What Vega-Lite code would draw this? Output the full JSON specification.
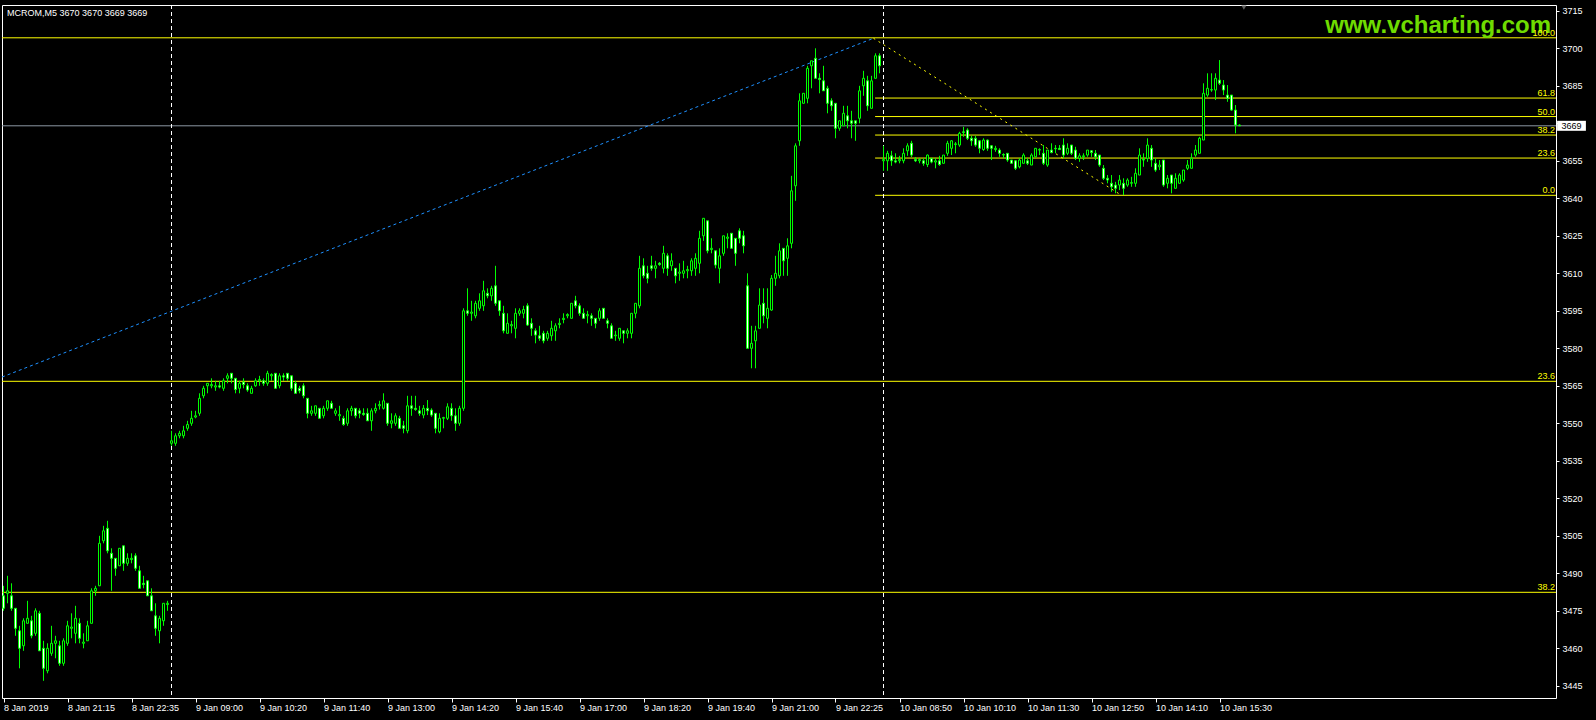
{
"$schema":"https://vega.github.io/schema/vega-lite/v6.json",
"autosize":{"type":"none"},
"padding":{"left":2,"top":5,"right":40,"bottom":22},
"width":1554,"height":693,
"background":"#000000",
"config":{"view":{"stroke":"#ffffff","strokeWidth":1},"font":"Liberation Sans","scale":{"continuousPadding":0},"axis":{"labelOverlap":false},"axisY":{"labelOverlap":false,"format":"d","tickCount":40}},
"datasets":{
"candles":[
{"i":0,"o":3481,"h":3485,"l":3475,"c":3476},{"i":1,"o":3482,"h":3489,"l":3478,"c":3483},{"i":2,"o":3481,"h":3486,"l":3475,"c":3476},{"i":3,"o":3476,"h":3476,"l":3465,"c":3468},{"i":4,"o":3467,"h":3469,"l":3452,"c":3460},{"i":5,"o":3461,"h":3472,"l":3459,"c":3471},{"i":6,"o":3470,"h":3479,"l":3470,"c":3472},{"i":7,"o":3471,"h":3473,"l":3464,"c":3465},{"i":8,"o":3466,"h":3476,"l":3465,"c":3475},{"i":9,"o":3474,"h":3475,"l":3459,"c":3459},
{"i":10,"o":3460,"h":3463,"l":3447,"c":3452},{"i":11,"o":3451,"h":3462,"l":3450,"c":3460},{"i":12,"o":3458,"h":3469,"l":3457,"c":3462},{"i":13,"o":3462,"h":3465,"l":3456,"c":3463},{"i":14,"o":3461,"h":3463,"l":3453,"c":3454},{"i":15,"o":3454,"h":3464,"l":3453,"c":3463},{"i":16,"o":3462,"h":3471,"l":3461,"c":3469},{"i":17,"o":3468,"h":3474,"l":3464,"c":3468.5},{"i":18,"o":3466,"h":3477,"l":3462,"c":3472},{"i":19,"o":3470,"h":3472,"l":3462,"c":3464},
{"i":20,"o":3462,"h":3466,"l":3460,"c":3462.5},{"i":21,"o":3463,"h":3471,"l":3463,"c":3469},{"i":22,"o":3470,"h":3484,"l":3470,"c":3483},{"i":23,"o":3483,"h":3485,"l":3481,"c":3484},{"i":24,"o":3485,"h":3505,"l":3485,"c":3502},{"i":25,"o":3503,"h":3509,"l":3502,"c":3507},{"i":26,"o":3508,"h":3511,"l":3498,"c":3499},{"i":27,"o":3498,"h":3500,"l":3483,"c":3496},{"i":28,"o":3496,"h":3496,"l":3489,"c":3492},{"i":29,"o":3493,"h":3500,"l":3493,"c":3500},
{"i":30,"o":3501,"h":3501,"l":3491,"c":3494},{"i":31,"o":3494,"h":3498,"l":3493,"c":3496},{"i":32,"o":3495.5,"h":3498,"l":3494,"c":3496},{"i":33,"o":3497,"h":3498,"l":3491,"c":3492},{"i":34,"o":3491,"h":3493,"l":3484,"c":3484},{"i":35,"o":3486,"h":3489,"l":3484,"c":3485.5},{"i":36,"o":3487,"h":3487,"l":3481,"c":3481},{"i":37,"o":3481,"h":3484,"l":3475,"c":3475},{"i":38,"o":3473,"h":3478,"l":3465,"c":3468},{"i":39,"o":3467,"h":3473,"l":3462,"c":3472},
{"i":40,"o":3471,"h":3478,"l":3469,"c":3478},{"i":41,"o":3477.5,"h":3479,"l":3475,"c":3478},{"i":42,"o":3542,"h":3547,"l":3541,"c":3543},{"i":43,"o":3542,"h":3546,"l":3541,"c":3545},{"i":44,"o":3545,"h":3547,"l":3544,"c":3546},{"i":45,"o":3545,"h":3549,"l":3544,"c":3547},{"i":46,"o":3548,"h":3551,"l":3547,"c":3549.5},{"i":47,"o":3550,"h":3555,"l":3549,"c":3552},{"i":48,"o":3552.5,"h":3555,"l":3552,"c":3553},{"i":49,"o":3554,"h":3562,"l":3553,"c":3560},
{"i":50,"o":3561,"h":3565,"l":3560,"c":3564},{"i":51,"o":3565,"h":3566,"l":3562,"c":3566},{"i":52,"o":3565,"h":3568,"l":3564,"c":3565.5},{"i":53,"o":3564.5,"h":3567,"l":3563,"c":3565},{"i":54,"o":3565,"h":3567,"l":3564,"c":3564.5},{"i":55,"o":3564,"h":3568,"l":3563,"c":3567},{"i":56,"o":3568,"h":3570,"l":3566,"c":3569},{"i":57,"o":3570,"h":3570,"l":3566,"c":3568},{"i":58,"o":3568,"h":3568,"l":3562,"c":3563.5},{"i":59,"o":3564,"h":3567,"l":3562,"c":3566},
{"i":60,"o":3566.5,"h":3568,"l":3564,"c":3565.5},{"i":61,"o":3565,"h":3566,"l":3562.6,"c":3563.3},{"i":62,"o":3562,"h":3565,"l":3562,"c":3564},{"i":63,"o":3565,"h":3568,"l":3564.6,"c":3567},{"i":64,"o":3567,"h":3569,"l":3565,"c":3567.5},{"i":65,"o":3567,"h":3568,"l":3565,"c":3566},{"i":66,"o":3566,"h":3571,"l":3565,"c":3570},{"i":67,"o":3569,"h":3570,"l":3567,"c":3569.5},{"i":68,"o":3570,"h":3570,"l":3564,"c":3564},{"i":69,"o":3565,"h":3570,"l":3564,"c":3569},
{"i":70,"o":3569,"h":3570,"l":3567,"c":3568.5},{"i":71,"o":3570,"h":3570,"l":3567,"c":3568},{"i":72,"o":3569,"h":3569,"l":3563,"c":3564},{"i":73,"o":3566,"h":3567,"l":3562,"c":3562},{"i":74,"o":3564,"h":3565,"l":3562,"c":3563},{"i":75,"o":3565,"h":3566,"l":3560,"c":3561},{"i":76,"o":3560,"h":3560,"l":3552,"c":3554},{"i":77,"o":3554,"h":3557,"l":3553,"c":3555},{"i":78,"o":3554,"h":3557,"l":3553,"c":3557},{"i":79,"o":3556,"h":3556,"l":3552,"c":3552},
{"i":80,"o":3553,"h":3557,"l":3552,"c":3556},{"i":81,"o":3556,"h":3559,"l":3555,"c":3559},{"i":82,"o":3558,"h":3559,"l":3556,"c":3556},{"i":83,"o":3554,"h":3556,"l":3553,"c":3555},{"i":84,"o":3553,"h":3557,"l":3551,"c":3553.5},{"i":85,"o":3552,"h":3553,"l":3549,"c":3549.5},{"i":86,"o":3550,"h":3556,"l":3549,"c":3555},{"i":87,"o":3555,"h":3557,"l":3553,"c":3556},{"i":88,"o":3556,"h":3556,"l":3552,"c":3553},{"i":89,"o":3555,"h":3556,"l":3552,"c":3554},
{"i":90,"o":3554,"h":3556,"l":3553,"c":3553.5},{"i":91,"o":3554,"h":3556,"l":3551,"c":3551},{"i":92,"o":3551,"h":3556,"l":3547,"c":3555},{"i":93,"o":3555,"h":3558,"l":3554,"c":3556},{"i":94,"o":3557,"h":3559,"l":3555.5,"c":3557.5},{"i":95,"o":3556,"h":3562,"l":3555.5,"c":3559},{"i":96,"o":3558,"h":3558,"l":3549,"c":3550},{"i":97,"o":3550,"h":3554,"l":3548,"c":3551},{"i":98,"o":3550,"h":3554,"l":3549,"c":3553},{"i":99,"o":3552,"h":3553,"l":3548,"c":3548},
{"i":100,"o":3549,"h":3551,"l":3546,"c":3548},{"i":101,"o":3547,"h":3561,"l":3546,"c":3557},{"i":102,"o":3557,"h":3561,"l":3553,"c":3556},{"i":103,"o":3556,"h":3561,"l":3555,"c":3555.5},{"i":104,"o":3555,"h":3557,"l":3553,"c":3554},{"i":105,"o":3553.3,"h":3557.3,"l":3552,"c":3556},{"i":106,"o":3556,"h":3559.3,"l":3553.3,"c":3555},{"i":107,"o":3555.3,"h":3556,"l":3552.6,"c":3553.3},{"i":108,"o":3554,"h":3554,"l":3546,"c":3548},{"i":109,"o":3546.6,"h":3554,"l":3546,"c":3552},
{"i":110,"o":3552,"h":3552.6,"l":3548,"c":3552.3},{"i":111,"o":3552,"h":3558,"l":3551.3,"c":3556.6},{"i":112,"o":3556,"h":3558,"l":3551,"c":3553},{"i":113,"o":3553,"h":3556,"l":3547,"c":3550},{"i":114,"o":3550,"h":3557,"l":3549,"c":3556},{"i":115,"o":3556,"h":3596,"l":3555,"c":3595},{"i":116,"o":3595,"h":3604,"l":3593,"c":3594},{"i":117,"o":3594,"h":3599,"l":3591,"c":3594.5},{"i":118,"o":3593,"h":3599,"l":3592,"c":3598},{"i":119,"o":3596,"h":3602,"l":3595,"c":3599},
{"i":120,"o":3597,"h":3607,"l":3595,"c":3603},{"i":121,"o":3602,"h":3604,"l":3600,"c":3601},{"i":122,"o":3601,"h":3605,"l":3599,"c":3604},{"i":123,"o":3605,"h":3613,"l":3597,"c":3598},{"i":124,"o":3599,"h":3599,"l":3593,"c":3595},{"i":125,"o":3594,"h":3597,"l":3586,"c":3587},{"i":126,"o":3586,"h":3594,"l":3586,"c":3590},{"i":127,"o":3589,"h":3591,"l":3586,"c":3589.5},{"i":128,"o":3588,"h":3596,"l":3584,"c":3594},{"i":129,"o":3594,"h":3596,"l":3593,"c":3595},
{"i":130,"o":3594,"h":3597,"l":3592,"c":3595.5},{"i":131,"o":3597,"h":3598,"l":3589,"c":3589.3},{"i":132,"o":3590,"h":3592,"l":3585,"c":3588},{"i":133,"o":3587,"h":3588,"l":3582,"c":3585.3},{"i":134,"o":3585,"h":3589,"l":3583,"c":3584},{"i":135,"o":3586,"h":3587,"l":3582,"c":3583},{"i":136,"o":3584,"h":3587,"l":3583,"c":3586},{"i":137,"o":3585,"h":3591,"l":3583,"c":3588},{"i":138,"o":3587,"h":3590,"l":3583,"c":3589},{"i":139,"o":3589.5,"h":3592,"l":3588,"c":3590},
{"i":140,"o":3591.5,"h":3594,"l":3590,"c":3592},{"i":141,"o":3593,"h":3594,"l":3592,"c":3593.5},{"i":142,"o":3592,"h":3598,"l":3592,"c":3598},{"i":143,"o":3599,"h":3601,"l":3596,"c":3597},{"i":144,"o":3597,"h":3598,"l":3593,"c":3594},{"i":145,"o":3594,"h":3596,"l":3592,"c":3592},{"i":146,"o":3593,"h":3595,"l":3590,"c":3593.5},{"i":147,"o":3593,"h":3594,"l":3589,"c":3592},{"i":148,"o":3592,"h":3592,"l":3588,"c":3590},{"i":149,"o":3592,"h":3596,"l":3591,"c":3595},
{"i":150,"o":3596,"h":3596,"l":3592,"c":3592},{"i":151,"o":3591,"h":3592,"l":3588,"c":3590},{"i":152,"o":3589,"h":3590,"l":3584,"c":3584},{"i":153,"o":3585,"h":3587,"l":3583,"c":3585.3},{"i":154,"o":3584,"h":3588,"l":3583,"c":3588},{"i":155,"o":3587,"h":3587,"l":3582,"c":3586},{"i":156,"o":3586,"h":3588,"l":3584,"c":3587},{"i":157,"o":3586,"h":3594,"l":3584,"c":3594},{"i":158,"o":3594,"h":3598,"l":3592,"c":3598},{"i":159,"o":3597,"h":3617,"l":3596,"c":3612},
{"i":160,"o":3613,"h":3616,"l":3608,"c":3609},{"i":161,"o":3610,"h":3613,"l":3606,"c":3608},{"i":162,"o":3613,"h":3617,"l":3611,"c":3612},{"i":163,"o":3612,"h":3615,"l":3608,"c":3613},{"i":164,"o":3614,"h":3614.5,"l":3613,"c":3613.5},{"i":165,"o":3612,"h":3621,"l":3610,"c":3618},{"i":166,"o":3617,"h":3618,"l":3609,"c":3612},{"i":167,"o":3613,"h":3618,"l":3611,"c":3615},{"i":168,"o":3612,"h":3612,"l":3606,"c":3609},{"i":169,"o":3610,"h":3614,"l":3607,"c":3610.5},
{"i":170,"o":3610,"h":3615,"l":3608,"c":3611},{"i":171,"o":3611,"h":3613,"l":3608,"c":3611.5},{"i":172,"o":3611,"h":3616,"l":3609,"c":3615},{"i":173,"o":3612,"h":3618,"l":3609,"c":3616},{"i":174,"o":3614,"h":3627,"l":3610,"c":3624},{"i":175,"o":3625,"h":3632,"l":3623,"c":3632},{"i":176,"o":3631,"h":3631,"l":3618,"c":3619},{"i":177,"o":3619.5,"h":3624,"l":3618,"c":3620},{"i":178,"o":3619,"h":3619,"l":3612,"c":3613.3},{"i":179,"o":3612,"h":3620,"l":3606,"c":3617},
{"i":180,"o":3618,"h":3625,"l":3617,"c":3625},{"i":181,"o":3624,"h":3626,"l":3620,"c":3624.5},{"i":182,"o":3626,"h":3626,"l":3620,"c":3620},{"i":183,"o":3624,"h":3624,"l":3613,"c":3618},{"i":184,"o":3627,"h":3628,"l":3622,"c":3624},{"i":185,"o":3625,"h":3627,"l":3618,"c":3621},{"i":186,"o":3605,"h":3610,"l":3580,"c":3580},{"i":187,"o":3580,"h":3589,"l":3572,"c":3582},{"i":188,"o":3583,"h":3589,"l":3572,"c":3587},{"i":189,"o":3588,"h":3604,"l":3588,"c":3597.3},
{"i":190,"o":3598,"h":3604,"l":3590,"c":3593},{"i":191,"o":3592,"h":3604,"l":3588,"c":3596},{"i":192,"o":3595.3,"h":3609.3,"l":3595,"c":3608},{"i":193,"o":3608,"h":3617,"l":3605,"c":3610},{"i":194,"o":3609,"h":3622,"l":3608,"c":3619},{"i":195,"o":3620,"h":3620,"l":3609,"c":3615},{"i":196,"o":3616,"h":3624,"l":3609,"c":3621},{"i":197,"o":3622,"h":3649,"l":3620,"c":3643},{"i":198,"o":3645,"h":3662,"l":3639,"c":3661},{"i":199,"o":3663,"h":3682,"l":3661,"c":3679},
{"i":200,"o":3678,"h":3682,"l":3678,"c":3682},{"i":201,"o":3680,"h":3693,"l":3678,"c":3692},{"i":202,"o":3693,"h":3695,"l":3684,"c":3695},{"i":203,"o":3696,"h":3700,"l":3688,"c":3688},{"i":204,"o":3688,"h":3690,"l":3682,"c":3687.5},{"i":205,"o":3687,"h":3693,"l":3683,"c":3683},{"i":206,"o":3684,"h":3685,"l":3674,"c":3678},{"i":207,"o":3679,"h":3680,"l":3675,"c":3677},{"i":208,"o":3678,"h":3678,"l":3664,"c":3668},{"i":209,"o":3668,"h":3671,"l":3667,"c":3671},
{"i":210,"o":3669,"h":3677,"l":3669,"c":3674},{"i":211,"o":3673,"h":3677,"l":3668,"c":3671},{"i":212,"o":3671,"h":3675,"l":3664,"c":3670},{"i":213,"o":3671,"h":3671,"l":3663,"c":3670},{"i":214,"o":3672,"h":3685,"l":3670,"c":3683},{"i":215,"o":3685,"h":3691,"l":3681,"c":3688},{"i":216,"o":3687,"h":3689,"l":3675,"c":3677},{"i":217,"o":3676,"h":3689,"l":3676,"c":3687},{"i":218,"o":3688,"h":3698,"l":3688,"c":3697},{"i":219,"o":3697,"h":3698,"l":3690,"c":3693},
{"i":220,"o":3655,"h":3661,"l":3651,"c":3655.5},{"i":221,"o":3655,"h":3659,"l":3651,"c":3658},{"i":222,"o":3657,"h":3659,"l":3653,"c":3655},{"i":223,"o":3655,"h":3658,"l":3654,"c":3654.5},{"i":224,"o":3655,"h":3657,"l":3654,"c":3655.5},{"i":225,"o":3655,"h":3660,"l":3654,"c":3658},{"i":226,"o":3659,"h":3662,"l":3657,"c":3661},{"i":227,"o":3662,"h":3663,"l":3656.5,"c":3657.3},{"i":228,"o":3655.5,"h":3656.5,"l":3654.5,"c":3655},{"i":229,"o":3655,"h":3656,"l":3654,"c":3655.5},
{"i":230,"o":3655,"h":3656,"l":3653,"c":3654},{"i":231,"o":3653.5,"h":3657.5,"l":3652.5,"c":3657.3},{"i":232,"o":3656,"h":3656,"l":3654,"c":3654.5},{"i":233,"o":3654.5,"h":3656,"l":3652,"c":3655},{"i":234,"o":3655,"h":3657,"l":3653,"c":3653.5},{"i":235,"o":3654,"h":3657,"l":3654,"c":3657.3},{"i":236,"o":3658,"h":3663,"l":3657,"c":3662},{"i":237,"o":3660,"h":3663.3,"l":3657.3,"c":3663},{"i":238,"o":3661.5,"h":3662.5,"l":3658,"c":3661.8},{"i":239,"o":3661.3,"h":3666.6,"l":3660.6,"c":3666},
{"i":240,"o":3666.6,"h":3668.6,"l":3664.6,"c":3666.3},{"i":241,"o":3667.3,"h":3668,"l":3663.3,"c":3664},{"i":242,"o":3664,"h":3665,"l":3661,"c":3663},{"i":243,"o":3664,"h":3665,"l":3660.6,"c":3661.3},{"i":244,"o":3663,"h":3663.3,"l":3658,"c":3660},{"i":245,"o":3659.5,"h":3664,"l":3659,"c":3663.3},{"i":246,"o":3663.3,"h":3663.5,"l":3659,"c":3660},{"i":247,"o":3661,"h":3661.3,"l":3655.3,"c":3660},{"i":248,"o":3659.5,"h":3661,"l":3658.6,"c":3660},{"i":249,"o":3659.3,"h":3660,"l":3656.6,"c":3658},
{"i":250,"o":3657.5,"h":3658,"l":3656,"c":3657.3},{"i":251,"o":3658,"h":3658,"l":3654.6,"c":3655.3},{"i":252,"o":3655.3,"h":3655.3,"l":3654,"c":3654},{"i":253,"o":3655,"h":3655.3,"l":3651.3,"c":3652},{"i":254,"o":3652.6,"h":3656,"l":3652,"c":3655.3},{"i":255,"o":3654,"h":3658,"l":3654,"c":3657.3},{"i":256,"o":3655,"h":3656,"l":3653.3,"c":3654},{"i":257,"o":3653.3,"h":3658,"l":3653.3,"c":3657.3},{"i":258,"o":3656.6,"h":3660,"l":3656.6,"c":3660},{"i":259,"o":3659.3,"h":3660,"l":3657.3,"c":3659.5},
{"i":260,"o":3658,"h":3661.3,"l":3653.3,"c":3654},{"i":261,"o":3653.3,"h":3659.3,"l":3652.6,"c":3659.3},{"i":262,"o":3659.3,"h":3662,"l":3658,"c":3658.3},{"i":263,"o":3660,"h":3661.3,"l":3658,"c":3659.8},{"i":264,"o":3660,"h":3661.3,"l":3659.3,"c":3659.5},{"i":265,"o":3661.3,"h":3664,"l":3656,"c":3657.3},{"i":266,"o":3658,"h":3662,"l":3657.3,"c":3660},{"i":267,"o":3661.3,"h":3661.3,"l":3657.3,"c":3658},{"i":268,"o":3659.3,"h":3660.6,"l":3655.3,"c":3656},{"i":269,"o":3656,"h":3658,"l":3654.6,"c":3657},
{"i":270,"o":3656.6,"h":3658,"l":3655.3,"c":3657},{"i":271,"o":3657.3,"h":3659.3,"l":3656.6,"c":3659.3},{"i":272,"o":3659,"h":3659.3,"l":3656.6,"c":3658.3},{"i":273,"o":3658,"h":3659.3,"l":3655.3,"c":3656.6},{"i":274,"o":3657.3,"h":3657.3,"l":3652.6,"c":3653.3},{"i":275,"o":3652,"h":3653.3,"l":3647.3,"c":3648},{"i":276,"o":3648,"h":3649.3,"l":3646,"c":3647.3},{"i":277,"o":3646,"h":3649.3,"l":3642.6,"c":3644.6},{"i":278,"o":3645.3,"h":3646.6,"l":3642,"c":3644},{"i":279,"o":3645.3,"h":3649.3,"l":3643.3,"c":3647.3},
{"i":280,"o":3646,"h":3648,"l":3641.3,"c":3644},{"i":281,"o":3645.3,"h":3648,"l":3644.6,"c":3647.3},{"i":282,"o":3646,"h":3648.6,"l":3644.6,"c":3646.3},{"i":283,"o":3646,"h":3652,"l":3644.6,"c":3650},{"i":284,"o":3649.3,"h":3660,"l":3649.3,"c":3657.3},{"i":285,"o":3655.5,"h":3658,"l":3652.6,"c":3655.3},{"i":286,"o":3656,"h":3664,"l":3654.6,"c":3661.3},{"i":287,"o":3660,"h":3661.3,"l":3652.6,"c":3655.3},{"i":288,"o":3654,"h":3656,"l":3650.6,"c":3651.3},{"i":289,"o":3652.6,"h":3655.3,"l":3651.3,"c":3653.3},
{"i":290,"o":3655.3,"h":3655.3,"l":3644.6,"c":3645.3},{"i":291,"o":3646,"h":3649.3,"l":3644,"c":3648},{"i":292,"o":3649.3,"h":3649.3,"l":3642,"c":3646},{"i":293,"o":3644,"h":3650,"l":3644,"c":3648},{"i":294,"o":3646,"h":3650,"l":3646,"c":3649.3},{"i":295,"o":3647.3,"h":3651.3,"l":3646.6,"c":3651.3},{"i":296,"o":3652,"h":3655.3,"l":3651.3,"c":3653.3},{"i":297,"o":3652,"h":3658,"l":3652,"c":3656},{"i":298,"o":3657.3,"h":3661.3,"l":3656.6,"c":3659.3},{"i":299,"o":3658,"h":3664.6,"l":3658,"c":3664},
{"i":300,"o":3663.3,"h":3686,"l":3663.3,"c":3682},{"i":301,"o":3681.3,"h":3690,"l":3680.6,"c":3684},{"i":302,"o":3683.3,"h":3690,"l":3682.6,"c":3683.5},{"i":303,"o":3683.3,"h":3690,"l":3679.3,"c":3688},{"i":304,"o":3687.3,"h":3695.3,"l":3685.3,"c":3686},{"i":305,"o":3685.3,"h":3687.3,"l":3681.3,"c":3683.3},{"i":306,"o":3681.3,"h":3685.3,"l":3678.6,"c":3680},{"i":307,"o":3681.3,"h":3681.3,"l":3675,"c":3675.3},{"i":308,"o":3675.3,"h":3677.3,"l":3666,"c":3669.3},{"i":309,"o":3669.3,"h":3669.5,"l":3669,"c":3669}
],
"levels":[
{"p":3704.2,"a":-0.375,"b":388.125,"t":"100.0","col":"#ffff00"},
{"p":3680.1,"a":217.9,"b":388.125,"t":"61.8","col":"#ffff00"},
{"p":3672.7,"a":217.9,"b":388.125,"t":"50.0","col":"#ffff00"},
{"p":3665.3,"a":217.9,"b":388.125,"t":"38.2","col":"#ffff00"},
{"p":3656.1,"a":217.9,"b":388.125,"t":"23.6","col":"#ffff00"},
{"p":3641.2,"a":217.9,"b":388.125,"t":"0.0","col":"#ffff00"},
{"p":3566.8,"a":-0.375,"b":388.125,"t":"23.6","col":"#ffff00"},
{"p":3482.4,"a":-0.375,"b":388.125,"t":"38.2","col":"#ffff00"}
],
"price":[{"p":3669,"a":-0.375,"b":388.125}],
"blue":[{"i":-0.375,"p":3568.5},{"i":217.5,"p":3704}],
"yellow":[{"i":217.5,"p":3704},{"i":279.5,"p":3641.2}],
"seps":[{"i":42},{"i":220}],
"box":[{"a":388.4,"b":395.6,"lo":3667,"hi":3671,"m":392,"p":3669,"t":"3669"}],
"marker":[{"i":310.1,"p":3716.4}],
"title":[{"i":0.9,"p":3714.2,"t":"MCROM,M5  3670 3670 3669 3669"}],
"wm":[{"i":386.9,"p":3708.8,"t":"www.vcharting.com"}]
},
"layer":[
{"data":{"name":"price"},"mark":{"type":"rule","color":"#8c97a3","strokeWidth":1},
 "encoding":{"x":{"field":"a","type":"quantitative","scale":{"domain":[-0.375,388.125],"nice":false,"zero":false,"padding":0},
   "axis":{"values":[0,16,32,48,64,80,96,112,128,144,160,176,192,208,224,240,256,272,288,304],"tickCount":40,
     "labelExpr":"['8 Jan 2019','8 Jan 21:15','8 Jan 22:35','9 Jan 09:00','9 Jan 10:20','9 Jan 11:40','9 Jan 13:00','9 Jan 14:20','9 Jan 15:40','9 Jan 17:00','9 Jan 18:20','9 Jan 19:40','9 Jan 21:00','9 Jan 22:25','10 Jan 08:50','10 Jan 10:10','10 Jan 11:30','10 Jan 12:50','10 Jan 14:10','10 Jan 15:30'][round(datum.value/16)]",
     "labelAlign":"left","labelBaseline":"top","labelPadding":1,"labelFlush":false,"labelOverlap":false,"labelColor":"#ffffff","labelFont":"Liberation Sans","labelFontSize":9,
     "tickColor":"#ffffff","tickSize":4,"domain":false,"grid":false,"title":null}},
  "x2":{"field":"b"},
  "y":{"field":"p","type":"quantitative","scale":{"domain":[3440.12,3717.32],"nice":false,"zero":false,"padding":0},
   "axis":{"orient":"right","values":[3445,3460,3475,3490,3505,3520,3535,3550,3565,3580,3595,3610,3625,3640,3655,3670,3685,3700,3715],"tickCount":40,"format":"d",
     "labelColor":"#ffffff","labelFont":"Liberation Sans","labelFontSize":9,"labelPadding":3,"tickColor":"#ffffff","tickSize":3,"domain":false,"grid":false,"title":null,"labelOverlap":false,"labelFlush":false}}}},
{"data":{"name":"levels"},"mark":{"type":"rule","strokeWidth":1},
 "encoding":{"x":{"field":"a","type":"quantitative","scale":{"domain":[-0.375,388.125],"nice":false,"zero":false,"padding":0}},"x2":{"field":"b"},
  "y":{"field":"p","type":"quantitative","scale":{"domain":[3440.12,3717.32],"nice":false,"zero":false,"padding":0}},
  "color":{"field":"col","type":"nominal","scale":null}}},
{"data":{"name":"blue"},"mark":{"type":"line","color":"#1e90ff","strokeWidth":1,"strokeDash":[3,3]},
 "encoding":{"x":{"field":"i","type":"quantitative","scale":{"domain":[-0.375,388.125],"nice":false,"zero":false,"padding":0}},
  "y":{"field":"p","type":"quantitative","scale":{"domain":[3440.12,3717.32],"nice":false,"zero":false,"padding":0}}}},
{"data":{"name":"yellow"},"mark":{"type":"line","color":"#ffff00","strokeWidth":1,"strokeDash":[2,4]},
 "encoding":{"x":{"field":"i","type":"quantitative","scale":{"domain":[-0.375,388.125],"nice":false,"zero":false,"padding":0}},
  "y":{"field":"p","type":"quantitative","scale":{"domain":[3440.12,3717.32],"nice":false,"zero":false,"padding":0}}}},
{"data":{"name":"seps"},"mark":{"type":"rule","color":"#ffffff","strokeWidth":1,"strokeDash":[4,3]},
 "encoding":{"x":{"field":"i","type":"quantitative","scale":{"domain":[-0.375,388.125],"nice":false,"zero":false,"padding":0}}}},
{"data":{"name":"candles"},"mark":{"type":"rule","color":"#00ff00","strokeWidth":1},
 "encoding":{"x":{"field":"i","type":"quantitative","scale":{"domain":[-0.375,388.125],"nice":false,"zero":false,"padding":0}},
  "y":{"field":"l","type":"quantitative","scale":{"domain":[3440.12,3717.32],"nice":false,"zero":false,"padding":0}},"y2":{"field":"h"}}},
{"data":{"name":"candles"},"mark":{"type":"bar","width":2,"stroke":"#00ff00","strokeWidth":1},
 "encoding":{"x":{"field":"i","type":"quantitative","scale":{"domain":[-0.375,388.125],"nice":false,"zero":false,"padding":0}},
  "y":{"field":"o","type":"quantitative","scale":{"domain":[3440.12,3717.32],"nice":false,"zero":false,"padding":0}},"y2":{"field":"c"},
  "fill":{"condition":{"test":"datum.c < datum.o","value":"#ffffff"},"value":"#000000"}}},
{"data":{"name":"wm"},"mark":{"type":"text","align":"right","baseline":"middle","font":"Liberation Sans","fontWeight":"bold","fontSize":24,"color":"#6fdc00"},
 "encoding":{"x":{"field":"i","type":"quantitative","scale":{"domain":[-0.375,388.125],"nice":false,"zero":false,"padding":0}},
  "y":{"field":"p","type":"quantitative","scale":{"domain":[3440.12,3717.32],"nice":false,"zero":false,"padding":0}},"text":{"field":"t"}}},
{"data":{"name":"levels"},"mark":{"type":"text","align":"right","baseline":"alphabetic","dy":-2,"font":"Liberation Sans","fontSize":9,"color":"#ffff00"},
 "encoding":{"x":{"datum":387.9,"type":"quantitative","scale":{"domain":[-0.375,388.125],"nice":false,"zero":false,"padding":0}},
  "y":{"field":"p","type":"quantitative","scale":{"domain":[3440.12,3717.32],"nice":false,"zero":false,"padding":0}},"text":{"field":"t"}}},
{"data":{"name":"title"},"mark":{"type":"text","align":"left","baseline":"middle","font":"Liberation Sans","fontSize":9,"color":"#ffffff"},
 "encoding":{"x":{"field":"i","type":"quantitative","scale":{"domain":[-0.375,388.125],"nice":false,"zero":false,"padding":0}},
  "y":{"field":"p","type":"quantitative","scale":{"domain":[3440.12,3717.32],"nice":false,"zero":false,"padding":0}},"text":{"field":"t"}}},
{"data":{"name":"box"},"mark":{"type":"rect","fill":"#ffffff","clip":false},
 "encoding":{"x":{"field":"a","type":"quantitative","scale":{"domain":[-0.375,388.125],"nice":false,"zero":false,"padding":0}},"x2":{"field":"b"},
  "y":{"field":"lo","type":"quantitative","scale":{"domain":[3440.12,3717.32],"nice":false,"zero":false,"padding":0}},"y2":{"field":"hi"}}},
{"data":{"name":"box"},"mark":{"type":"text","align":"center","baseline":"middle","font":"Liberation Sans","fontSize":9,"color":"#000000"},
 "encoding":{"x":{"field":"m","type":"quantitative","scale":{"domain":[-0.375,388.125],"nice":false,"zero":false,"padding":0}},
  "y":{"field":"p","type":"quantitative","scale":{"domain":[3440.12,3717.32],"nice":false,"zero":false,"padding":0}},"text":{"field":"t"}}},
{"data":{"name":"marker"},"mark":{"type":"point","shape":"triangle-down","filled":true,"size":30,"color":"#8a8a8a"},
 "encoding":{"x":{"field":"i","type":"quantitative","scale":{"domain":[-0.375,388.125],"nice":false,"zero":false,"padding":0}},
  "y":{"field":"p","type":"quantitative","scale":{"domain":[3440.12,3717.32],"nice":false,"zero":false,"padding":0}}}}
]
}
